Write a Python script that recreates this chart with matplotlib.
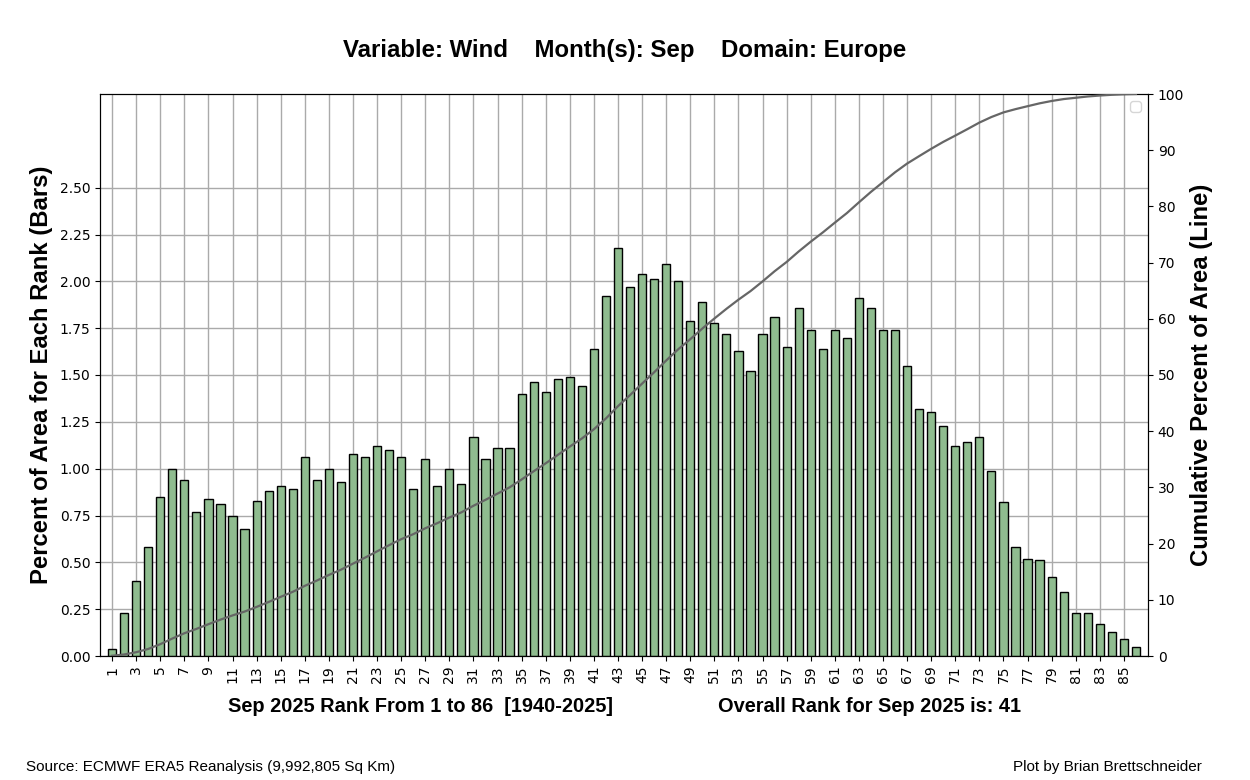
import numpy as np
import matplotlib
matplotlib.use("Agg")
import matplotlib.pyplot as plt

# percent of area for each rank
ranks = np.arange(1, 87)
pct_area = [
    0.04, 0.23, 0.40, 0.58, 0.85, 1.00, 0.94, 0.77, 0.84, 0.81,
    0.75, 0.68, 0.83, 0.88, 0.91, 0.89, 1.06, 0.94, 1.00, 0.93,
    1.08, 1.06, 1.12, 1.10, 1.06, 0.89, 1.05, 0.91, 1.00, 0.92,
    1.17, 1.05, 1.11, 1.11, 1.40, 1.46, 1.41, 1.48, 1.49, 1.44,
    1.64, 1.92, 2.18, 1.97, 2.04, 2.01, 2.09, 2.00, 1.79, 1.89,
    1.78, 1.72, 1.63, 1.52, 1.72, 1.81, 1.65, 1.86, 1.74, 1.64,
    1.74, 1.70, 1.91, 1.86, 1.74, 1.74, 1.55, 1.32, 1.30, 1.23,
    1.12, 1.14, 1.17, 0.99, 0.82, 0.58, 0.52, 0.51, 0.42, 0.34,
    0.23, 0.23, 0.17, 0.13, 0.09, 0.05,
]
cum_pct = np.cumsum(pct_area)
cum_pct = cum_pct / cum_pct[-1] * 100

title = "Variable: Wind    Month(s): Sep    Domain: Europe"
xlabel_left = "Sep 2025 Rank From 1 to 86  [1940-2025]"
xlabel_right = "Overall Rank for Sep 2025 is: 41"
source = "Source: ECMWF ERA5 Reanalysis (9,992,805 Sq Km)"
credit = "Plot by Brian Brettschneider"

arial = ["Liberation Sans", "DejaVu Sans"]

fig = plt.figure(figsize=(12.5, 7.8), dpi=100)
ax = fig.add_axes([100 / 1250, 1 - 656 / 780, 1048 / 1250, 562 / 780])

ax.bar(ranks, pct_area, width=0.68, color="#8fbc8f", edgecolor="black",
       linewidth=1.0, zorder=3)
ax.set_xlim(0, 87)
ax.set_ylim(0, 3.0)
ax.set_yticks(np.arange(0, 2.51, 0.25))
ax.set_yticklabels([f"{v:.2f}" for v in np.arange(0, 2.51, 0.25)], fontsize=10)
ax.set_xticks(ranks[::2])
ax.set_xticklabels([str(r) for r in ranks[::2]], rotation=90, fontsize=10)
ax.grid(True, color="#aaaaaa", linewidth=1.0, zorder=0)
ax.set_axisbelow(True)
ax.set_ylabel("Percent of Area for Each Rank (Bars)", fontsize=17.2,
              fontweight="bold", family=arial)
ax.yaxis.set_label_coords(-0.045, 0.5)

ax2 = ax.twinx()
ax2.plot(ranks, cum_pct, color="#666666", linewidth=1.6, zorder=4)
ax2.set_ylim(0, 100)
ax2.set_yticks(np.arange(0, 101, 10))
ax2.tick_params(labelsize=10)
ax2.set_ylabel("Cumulative Percent of Area (Line)", fontsize=17.2,
               fontweight="bold", family=arial)
ax2.yaxis.set_label_coords(1.040, 0.5)
ax2.legend(handles=[], loc="upper right")

fig.text(0.5, 1 - 50 / 780, title, ha="center", va="center", fontsize=17.3,
         fontweight="bold", family=arial)
fig.text(420 / 1250, 1 - 706 / 780, xlabel_left, ha="center", va="center",
         fontsize=14.4, fontweight="bold", family=arial)
fig.text(869 / 1250, 1 - 706 / 780, xlabel_right, ha="center", va="center",
         fontsize=14.4, fontweight="bold", family=arial)
fig.text(26 / 1250, 1 - 767 / 780, source, ha="left", va="center",
         fontsize=11, family=arial)
fig.text(1202 / 1250, 1 - 767 / 780, credit, ha="right", va="center",
         fontsize=11, family=arial)

fig.savefig("out.png", dpi=100)
